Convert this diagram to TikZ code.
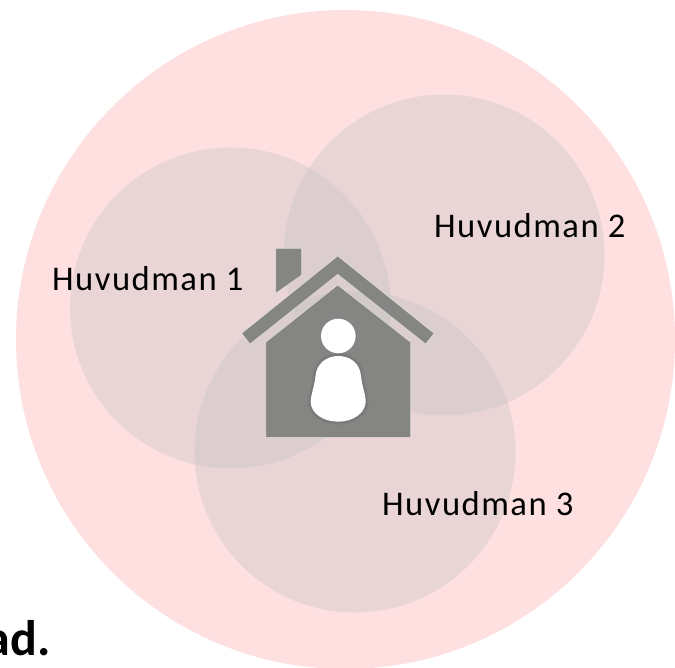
\documentclass[tikz,border=0pt]{standalone}
\usepackage{fontspec}
\setmainfont{Carlito}
\definecolor{bigpink}{HTML}{FEE0E1}
\definecolor{lens}{HTML}{BEBEBE}
\definecolor{housegray}{HTML}{858684}
\def\personbody{(338.3,356) .. controls (351,356) and (360,364) .. (361,376)
  .. controls (362,386) and (366,396) .. (365.7,402)
  .. controls (365,414) and (352,421.7) .. (338.3,421.7)
  .. controls (324,421.7) and (311,414) .. (310.7,402)
  .. controls (310.5,396) and (314.5,386) .. (315.5,376)
  .. controls (316.5,364) and (326,356) .. (338.3,356) -- cycle}
\tikzset{
  x=1pt,y=-1pt,
  bigcircle/.style={circle,fill=bigpink,draw=none,inner sep=0pt,minimum size=659pt},
  lenscircle/.style={circle,fill=lens,fill opacity=.3,draw=none,inner sep=0pt,minimum size=321pt},
  label/.style={font=\fontsize{34.6}{40}\selectfont\addfontfeature{LetterSpace=4.3},text=black,inner sep=0pt,anchor=base west},
  housepart/.style={fill=housegray,draw=white,draw opacity=.55,line width=.6pt},
  person/.style={fill=white,draw=none},
  halo/.style={draw=black,draw opacity=.05,fill=none}
}
\begin{document}
\begin{tikzpicture}
\useasboundingbox (0,0) rectangle (675,668);
\begin{scope}
\clip (0,0) rectangle (675,668);
\node[bigcircle] (big) at (345.5,339.5) {};
\node[lenscircle] (h1) at (230.5,308) {};
\node[lenscircle] (h2) at (444,255) {};
\node[lenscircle] (h3) at (355,452) {};
\node[font=\fontsize{50}{54}\selectfont\bfseries,inner sep=0pt,anchor=base east] (tail) at (51,655) {ad.};
\end{scope}
\node[label] (l1) at (52,291) {Huvudman 1};
\node[label] (l2) at (434,238) {Huvudman 2};
\node[label] (l3) at (382,515.5) {Huvudman 3};
% house
\fill[housepart] (275.7,248.3) -- (301.7,248.3) -- (301.7,275) -- (275.7,293.3) -- cycle;
\fill[housepart] (337.7,256) -- (434,333.3) -- (425.7,344) -- (337.7,274.3) -- (250,344) -- (241.7,333.3) -- cycle;
\fill[housepart] (337.7,285) -- (410.7,342.3) -- (410.7,437.3) -- (265.7,437.3) -- (265.7,342.3) -- cycle;
\draw[halo,line width=6pt] \personbody;
\draw[halo,line width=3pt] \personbody;
\fill[person] (338.3,336) circle (17.3);
\fill[person] \personbody;
\end{tikzpicture}
\end{document}
